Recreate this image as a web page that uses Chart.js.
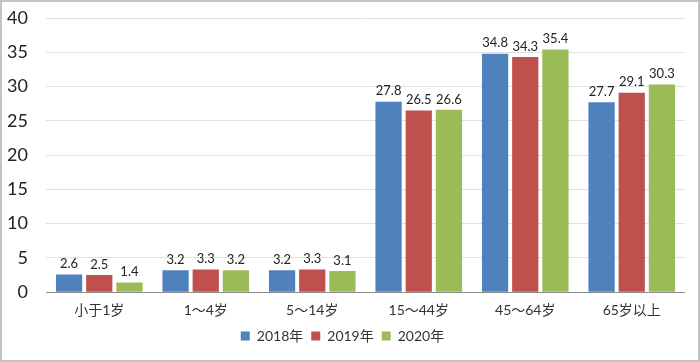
<!DOCTYPE html>
<html>
<head>
<meta charset="utf-8">
<script src="https://cdn.jsdelivr.net/npm/chart.js@4/dist/chart.umd.min.js"></script>
<style>
html,body{margin:0;padding:0;background:#fff;}
#wrap{position:relative;width:700px;height:362px;}
</style>
</head>
<body>
<div id="wrap"><canvas id="c" width="700" height="362"></canvas></div>
<script>
const categories = ["小于1岁", "1～4岁", "5～14岁", "15～44岁", "45～64岁", "65岁以上"];
const series2018 = [2.6, 3.2, 3.2, 27.8, 34.8, 27.7];
const series2019 = [2.5, 3.3, 3.3, 26.5, 34.3, 29.1];
const series2020 = [1.4, 3.2, 3.1, 26.6, 35.4, 30.3];
const seriesNames = ["2018年", "2019年", "2020年"];
const yTicks = [0, 5, 10, 15, 20, 25, 30, 35, 40];

const FONT = "Lato, 'Noto Sans CJK SC', sans-serif";

const labelPlugin = {
  id: 'valueLabels',
  afterDatasetsDraw(chart) {
    const ctx = chart.ctx;
    ctx.save();
    ctx.font = "13px " + FONT;
    ctx.fillStyle = "#222";
    ctx.textAlign = "center";
    ctx.textBaseline = "bottom";
    chart.data.datasets.forEach((ds, i) => {
      const meta = chart.getDatasetMeta(i);
      meta.data.forEach((bar, j) => {
        ctx.fillText(ds.data[j].toFixed(1), bar.x, bar.y - 4);
      });
    });
    ctx.restore();
  }
};
const borderPlugin = {
  id: 'outerBorder',
  beforeDraw(chart) {
    const ctx = chart.ctx;
    ctx.save();
    ctx.fillStyle = "#fff";
    ctx.fillRect(0, 0, chart.width, chart.height);
    ctx.restore();
  },
  afterDraw(chart) {
    const ctx = chart.ctx;
    ctx.save();
    ctx.strokeStyle = "#c4c4c4";
    ctx.lineWidth = 2;
    ctx.strokeRect(1, 1, chart.width - 2, chart.height - 2);
    ctx.restore();
  }
};

new Chart(document.getElementById('c'), {
  type: 'bar',
  data: {
    labels: categories,
    datasets: [
      { label: seriesNames[0], data: series2018, backgroundColor: "#4F81BD" },
      { label: seriesNames[1], data: series2019, backgroundColor: "#C0504D" },
      { label: seriesNames[2], data: series2020, backgroundColor: "#9BBB59" }
    ]
  },
  options: {
    responsive: false,
    animation: false,
    devicePixelRatio: 1,
    layout: { padding: { left: 0, right: 15, top: 18, bottom: 9 } },
    datasets: { bar: { categoryPercentage: 0.85, barPercentage: 0.87 } },
    scales: {
      x: {
        grid: { display: false },
        border: { display: false },
        ticks: { color: "#333", font: { family: FONT, size: 14 }, padding: 2 }
      },
      y: {
        min: 0, max: 40,
        afterBuildTicks(scale) { scale.ticks = yTicks.map(v => ({ value: v })); },
        afterFit(scale) { scale.width = 46; scale.paddingTop = 0; scale.paddingBottom = 0; },
        border: { display: false },
        grid: {
          color: ctx => ctx.tick && ctx.tick.value === 0 ? "#8c8c8c" : "#e0e0e0",
          drawTicks: false
        },
        ticks: { color: "#222", font: { family: FONT, size: 18 }, padding: 18 }
      }
    },
    plugins: {
      legend: {
        position: 'bottom',
        labels: {
          boxWidth: 9, boxHeight: 9, padding: 8,
          color: "#333",
          font: { family: FONT, size: 14 }
        }
      },
      tooltip: { enabled: false }
    }
  },
  plugins: [labelPlugin, borderPlugin]
});
</script>
</body>
</html>
